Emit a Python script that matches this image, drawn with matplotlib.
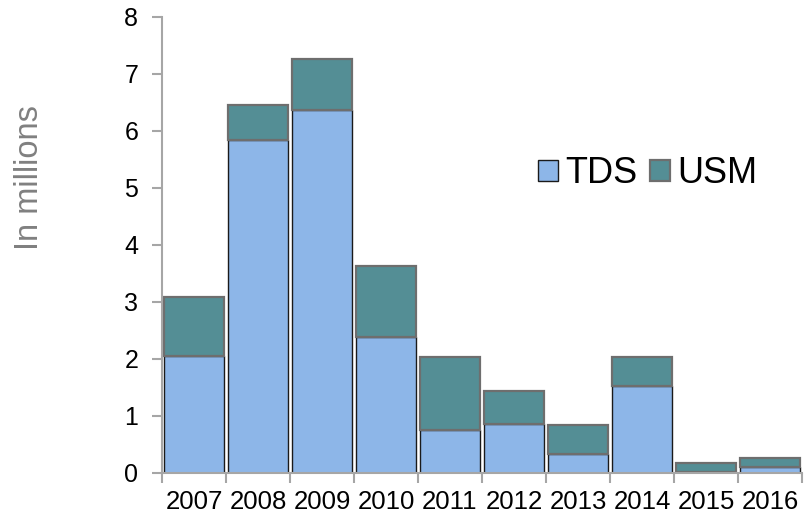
import numpy as np
import matplotlib
matplotlib.use("Agg")
import matplotlib.pyplot as plt
from matplotlib.ticker import FixedLocator, NullFormatter

plt.rcParams['font.family'] = ['Liberation Sans', 'DejaVu Sans']

years = ['2007', '2008', '2009', '2010', '2011', '2012', '2013', '2014', '2015', '2016']
tds = [2.06, 5.85, 6.37, 2.39, 0.75, 0.86, 0.33, 1.53, 0.01, 0.10]
totals = [3.08, 6.46, 7.26, 3.63, 2.03, 1.44, 0.84, 2.03, 0.18, 0.27]
usm = [t - d for t, d in zip(totals, tds)]

fig = plt.figure(figsize=(8.07, 5.18), dpi=100)
ax = fig.add_axes([0.2007, 0.0869, 0.7931, 0.8803])

x = np.arange(len(years))
w = 0.93
ax.bar(x, tds, w, color='#8DB6E8', edgecolor='#1a1a1a', linewidth=1.0, label='TDS')
ax.bar(x, usm, w, bottom=tds, color='#548E95', edgecolor='#6e6e6e', linewidth=1.6, label='USM')

ax.set_xlim(-0.5, len(years) - 0.5)
ax.set_ylim(0, 8)
ax.set_yticks(range(0, 9))

# ticks at the category boundaries, labels in the middle
ax.xaxis.set_major_locator(FixedLocator(np.arange(-0.5, len(years), 1)))
ax.xaxis.set_major_formatter(NullFormatter())
ax.xaxis.set_minor_locator(FixedLocator(x))
ax.set_xticklabels(years, minor=True)
ax.tick_params(axis='x', which='major', length=7, width=1.5, color='#a6a6a6', direction='out')
ax.tick_params(axis='x', which='minor', length=0, labelsize=18.5, pad=12)
ax.tick_params(axis='y', length=7, width=1.5, color='#a6a6a6', labelsize=18, pad=10)

for s in ['top', 'right']:
    ax.spines[s].set_visible(False)
for s in ['left', 'bottom']:
    ax.spines[s].set_color('#a6a6a6')
    ax.spines[s].set_linewidth(1.5)

fig.text(0.037, 0.658, 'In millions', rotation=90, va='center', ha='center',
         fontsize=23.5, color='#808080')

ax.legend(loc='upper left', bbox_to_anchor=(0.565, 0.726), ncol=2, frameon=False,
          fontsize=26, handlelength=0.55, handleheight=0.55, handletextpad=0.2,
          columnspacing=0.35, borderaxespad=0)

fig.savefig('out.png', dpi=100)
